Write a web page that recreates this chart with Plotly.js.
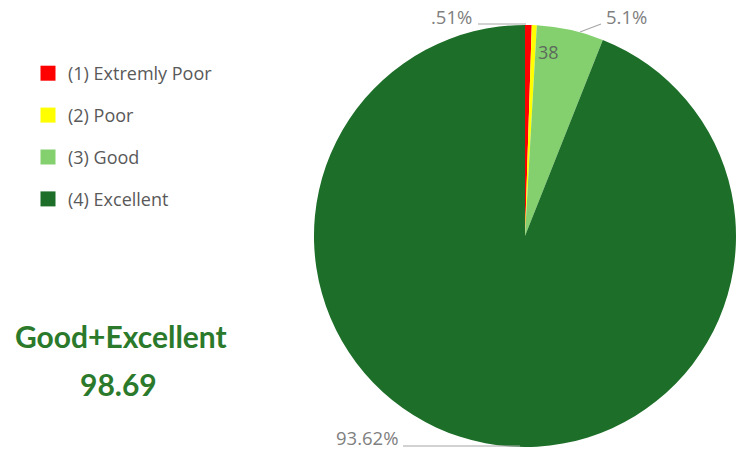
<!DOCTYPE html>
<html>
<head>
<meta charset="utf-8">
<script src="https://cdn.plot.ly/plotly-3.0.1.min.js"></script>
<style>html,body{margin:0;padding:0;background:#fff;}#chart{width:736px;height:453px;}</style>
</head>
<body>
<div id="chart"></div>
<script>
const categories = ['(1) Extremly Poor', '(2) Poor', '(3) Good', '(4) Excellent'];
const values = [0.51, 0.38, 5.1, 93.62];
const sliceLabels = ['.51%', '38', '5.1%', '93.62%'];
const colors = ['#ff0000', '#ffff00', '#84d06f', '#1c6e28'];
const summaryTitle = 'Good+Excellent';
const summaryValue = '98.69';

const W = 736, H = 453;
const px = x => x / W;
const py = y => 1 - y / H;

const pie = {
  type: 'pie',
  labels: categories,
  values: values,
  sort: false,
  direction: 'clockwise',
  rotation: 0,
  textinfo: 'none',
  marker: {colors: colors, line: {width: 0}},
  showlegend: false,
  hoverinfo: 'label+percent',
  domain: {x: [0.4266, 1], y: [0.011, 0.947]}
};

const legendTraces = categories.map((c, i) => ({
  type: 'scatter',
  mode: 'markers',
  x: [null], y: [null],
  name: c,
  legendgroup: 'g' + i,
  marker: {symbol: 'square', size: 15, color: colors[i]},
  hoverinfo: 'skip'
}));

const labelFont = {family: 'Open Sans, sans-serif', size: 18.5, color: '#808080'};

const annotations = [
  {x: px(451), y: py(17), text: sliceLabels[0], font: labelFont},
  {x: px(548), y: py(52), text: sliceLabels[1], font: {family: 'Open Sans, sans-serif', size: 18, color: '#5d6b5d'}},
  {x: px(626), y: py(17), text: sliceLabels[2], font: labelFont},
  {x: px(367), y: py(437), text: sliceLabels[3], font: labelFont},
  {x: px(121), y: py(336), text: '<b>' + summaryTitle + '</b>', font: {family: 'Lato, sans-serif', size: 30, color: '#2b7a2b'}},
  {x: px(118), y: py(384), text: '<b>' + summaryValue + '</b>', font: {family: 'Lato, sans-serif', size: 30, color: '#2b7a2b'}}
].map(a => Object.assign({xref: 'paper', yref: 'paper', showarrow: false, xanchor: 'center', yanchor: 'middle'}, a));

const lineStyle = {color: '#a6a6a6', width: 1.2};
const shapes = [
  {x0: px(478), y0: py(24), x1: px(526), y1: py(24)},
  {x0: px(580), y0: py(32), x1: px(601), y1: py(24)},
  {x0: px(403), y0: py(446), x1: px(520), y1: py(446)}
].map(s => Object.assign({type: 'line', xref: 'paper', yref: 'paper', line: lineStyle}, s));

const layout = {
  width: W, height: H,
  margin: {l: 0, r: 0, t: 0, b: 0},
  paper_bgcolor: '#ffffff',
  plot_bgcolor: '#ffffff',
  xaxis: {visible: false, domain: [0, 0.01]},
  yaxis: {visible: false, domain: [0, 0.01]},
  showlegend: true,
  legend: {
    x: px(28), y: py(55), xanchor: 'left', yanchor: 'top',
    traceorder: 'grouped',
    tracegroupgap: 15.5,
    font: {family: 'Open Sans, sans-serif', size: 18, color: '#595959'},
    bgcolor: 'rgba(0,0,0,0)'
  },
  annotations: annotations,
  shapes: shapes
};

Plotly.newPlot('chart', [pie].concat(legendTraces), layout, {displayModeBar: false, staticPlot: true});
</script>
</body>
</html>
